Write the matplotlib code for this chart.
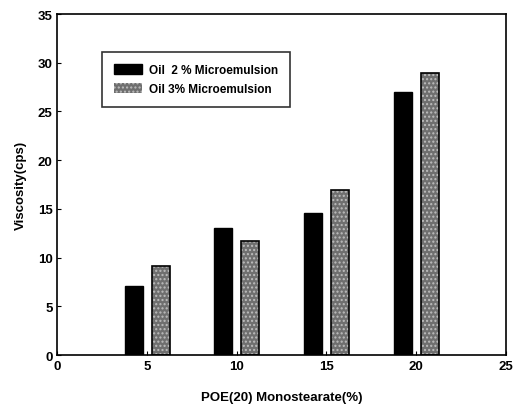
import matplotlib
matplotlib.use("Agg")
import matplotlib.pyplot as plt
import numpy as np

# POE(20) monostearate concentration (%)
conc = [5, 10, 15, 20]
oil2 = [7.1, 13.0, 14.6, 27.0]
oil3 = [9.1, 11.7, 16.9, 28.9]
labels = ['Oil  2 % Microemulsion', 'Oil 3% Microemulsion']

plt.rcParams['font.family'] = ['Liberation Sans', 'DejaVu Sans']
plt.rcParams['font.weight'] = 'bold'

fig = plt.figure(figsize=(5.13, 4.06), dpi=100)
ax = fig.add_axes([0.112, 0.123, 0.874, 0.840])

x = np.array(conc, dtype=float)
w = 1.0
ax.bar(x - 0.75, oil2, width=w, color='black', edgecolor='black', label=labels[0])
ax.bar(x + 0.75, oil3, width=w, color='#6f6f6f', edgecolor='#bdbdbd',
       hatch='....', linewidth=0, label=labels[1])
ax.bar(x + 0.75, oil3, width=w, fill=False, edgecolor='black', linewidth=1.2)

ax.set_xlim(0, 25)
ax.set_ylim(0, 35)
ax.set_xticks([0, 5, 10, 15, 20, 25])
ax.set_yticks([0, 5, 10, 15, 20, 25, 30, 35])
ax.tick_params(direction='in', length=3, labelsize=9.5)
for t in ax.get_xticklabels() + ax.get_yticklabels():
    t.set_fontweight('bold')
for s in ax.spines.values():
    s.set_linewidth(1.2)

ax.set_xlabel('POE(20) Monostearate(%)', fontsize=9.5, fontweight='bold', labelpad=14)
ax.set_ylabel('Viscosity(cps)', fontsize=9.5, fontweight='bold', labelpad=8)

leg = ax.legend(loc='upper left', bbox_to_anchor=(0.099, 0.889), borderaxespad=0,
                fontsize=8.5, frameon=True, fancybox=False, edgecolor='black',
                handlelength=2.4, handleheight=1.0, borderpad=1.0,
                labelspacing=0.55, handletextpad=0.6)
leg.get_frame().set_linewidth(1.2)

fig.savefig('out.png', dpi=100)
